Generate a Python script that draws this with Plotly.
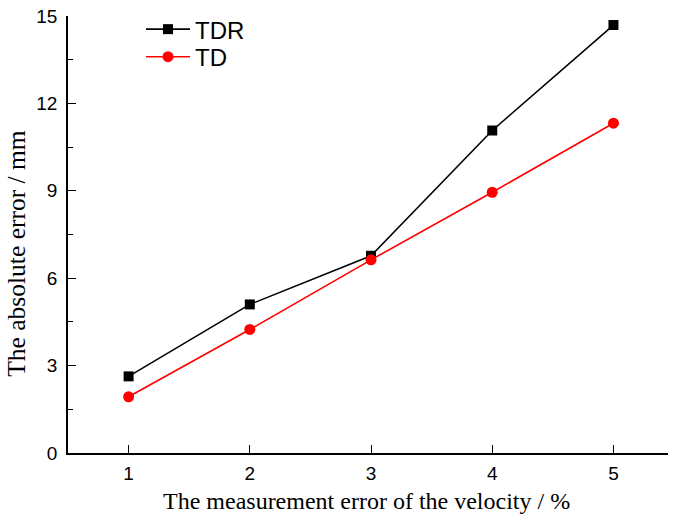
import plotly.graph_objects as go

x_vals = [1, 2, 3, 4, 5]
tdr_vals = [2.63, 5.1, 6.77, 11.07, 14.69]
td_vals = [1.93, 4.24, 6.63, 8.95, 11.32]
y_ticks = [0, 3, 6, 9, 12, 15]
y_minor = [1.5, 4.5, 7.5, 10.5, 13.5]

fig = go.Figure()
fig.add_trace(go.Scatter(x=x_vals, y=tdr_vals, name="TDR", mode="lines+markers",
                         line=dict(color="black", width=1.6), legend="legend",
                         marker=dict(symbol="square", size=10, color="black")))
fig.add_trace(go.Scatter(x=x_vals, y=td_vals, name="TD", mode="lines+markers",
                         line=dict(color="#ff0000", width=1.6), legend="legend2",
                         marker=dict(symbol="circle", size=11, color="#ff0000")))

axis_font = dict(family="Liberation Sans, Arial", size=19, color="black")
title_font = dict(family="Liberation Serif, Times New Roman", size=24, color="black")
leg_font = dict(family="Liberation Sans, Arial", size=24, color="black")
fig.update_layout(
    width=675, height=522,
    margin=dict(l=68, r=7, t=10, b=69),
    plot_bgcolor="white", paper_bgcolor="white",
    showlegend=True,
    legend=dict(x=0.1217, y=0.969, xanchor="left", yanchor="middle", font=leg_font,
                bgcolor="rgba(0,0,0,0)", itemwidth=44),
    legend2=dict(x=0.1217, y=0.906, xanchor="left", yanchor="middle", font=leg_font,
                 bgcolor="rgba(0,0,0,0)", itemwidth=44),
    xaxis=dict(range=[0.5, 5.45], tickvals=x_vals, ticks="inside", ticklen=8,
               tickwidth=1.3, tickcolor="black", showline=True, linecolor="black",
               linewidth=1.6, showgrid=False, zeroline=False, tickfont=axis_font,
               automargin=False, ticklabelstandoff=2),
    yaxis=dict(range=[0, 15.0001], tickvals=y_ticks, ticks="inside", ticklen=8,
               tickwidth=1.3, tickcolor="black", showline=True, linecolor="black",
               linewidth=1.6, showgrid=False, zeroline=False, tickfont=axis_font,
               automargin=False, ticklabelstandoff=5,
               minor=dict(tickvals=y_minor, ticks="inside", ticklen=5,
                          tickwidth=1.3, tickcolor="black")),
    annotations=[
        dict(text="The measurement error of the velocity / %", xref="paper", yref="paper",
             x=0.498, y=-0.11, xanchor="center", yanchor="middle", showarrow=False,
             font=title_font),
        dict(text="The absolute error / mm", xref="paper", yref="paper",
             x=-0.085, y=0.456, xanchor="center", yanchor="middle", showarrow=False,
             textangle=-90, font=dict(family="Liberation Serif, Times New Roman", size=25.5, color="black")),
    ],
)
fig.write_html("out.html", config={"displayModeBar": False},
               post_script="document.body.style.margin='0';")
